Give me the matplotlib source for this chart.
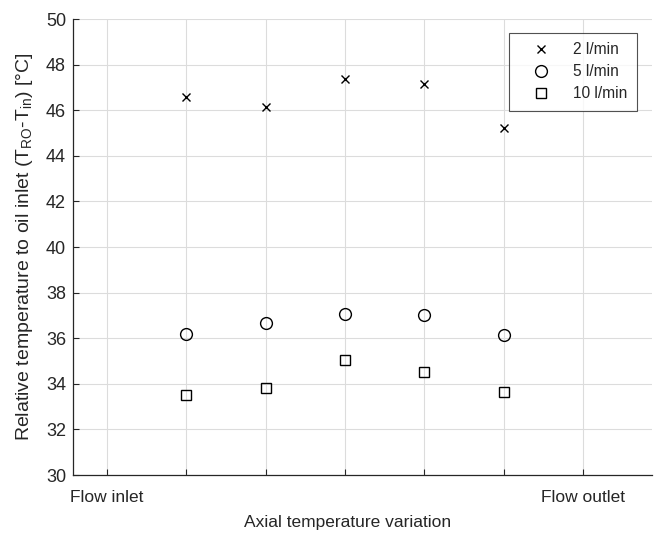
import matplotlib
matplotlib.use("Agg")
import matplotlib.pyplot as plt

positions = [2, 3, 4, 5, 6]
flow_2 = [46.60, 46.13, 47.36, 47.13, 45.20]
flow_5 = [36.17, 36.67, 37.05, 37.02, 36.16]
flow_10 = [33.52, 33.81, 35.05, 34.51, 33.63]
series_labels = ["2 l/min", "5 l/min", "10 l/min"]
xtick_pos = [1, 2, 3, 4, 5, 6, 7]
xtick_labels = ["Flow inlet", "", "", "", "", "", "Flow outlet"]
ytick_vals = list(range(30, 51, 2))

plt.rcParams['font.family'] = ['Liberation Sans', 'DejaVu Sans']
plt.rcParams['mathtext.fontset'] = 'custom'
plt.rcParams['mathtext.rm'] = 'Liberation Sans'
fig = plt.figure(figsize=(6.57, 5.34), dpi=100)
ax = fig.add_axes([73/657, 59/534, 579/657, 456/534])

ax.plot(positions, flow_2, linestyle='none', marker='x', color='black',
        markersize=6, markeredgewidth=1.0, label=series_labels[0])
ax.plot(positions, flow_5, linestyle='none', marker='o', color='black',
        markerfacecolor='none', markersize=8.5, markeredgewidth=1.0, label=series_labels[1])
ax.plot(positions, flow_10, linestyle='none', marker='s', color='black',
        markerfacecolor='none', markersize=6.5, markeredgewidth=1.0, label=series_labels[2])

ax.set_xlim(0.571, 7.87)
ax.set_ylim(30, 50)
ax.set_xticks(xtick_pos)
ax.set_xticklabels(xtick_labels)
ax.set_yticks(ytick_vals)
ax.grid(True, color='#dcdcdc', linewidth=0.8)
ax.set_axisbelow(True)
for s in ['top', 'right']:
    ax.spines[s].set_visible(False)
for s in ['left', 'bottom']:
    ax.spines[s].set_color('#262626')
    ax.spines[s].set_linewidth(0.9)
ax.tick_params(direction='in', length=4, width=0.8, color='#262626',
               labelcolor='#262626')
ax.tick_params(axis='x', pad=11, labelsize=12.5)
ax.tick_params(axis='y', pad=5, labelsize=13)

ax.set_xlabel('Axial temperature variation', fontsize=12.5, color='#262626', labelpad=7)
ax.xaxis.label.set_x(0.475)
ax.set_ylabel(r'Relative temperature to oil inlet (T$_{\mathregular{RO}}$-T$_{\mathregular{in}}$) [°C]',
              fontsize=14, color='#262626', labelpad=8)

leg = ax.legend(loc='upper right', bbox_to_anchor=(0.974, 0.969), borderaxespad=0,
                fontsize=11.2, frameon=True, fancybox=False, handlelength=2.8,
                handletextpad=0.7, borderpad=0.6, labelspacing=0.45)
leg.get_frame().set_edgecolor('#262626')
leg.get_frame().set_linewidth(0.8)
for t in leg.get_texts():
    t.set_color('#262626')

fig.savefig('out.png', dpi=100)
